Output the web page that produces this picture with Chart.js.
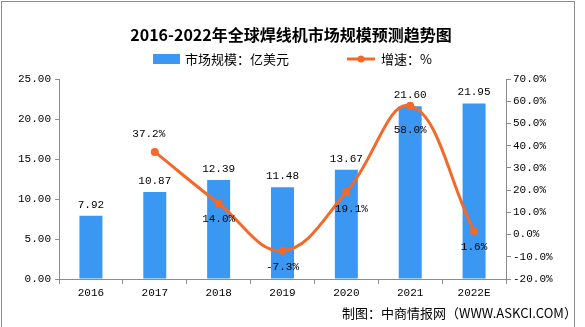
<!DOCTYPE html>
<html>
<head>
<meta charset="utf-8">
<script src="https://cdn.jsdelivr.net/npm/chart.js@4"></script>
<style>
  html, body { margin: 0; padding: 0; background: #fff; }
  #wrap { position: relative; width: 585px; height: 327px; }
  #frame { position: absolute; left: 1px; top: 1px; width: 574px; height: 330px; border: 1px solid #8c8c8c; box-sizing: border-box; pointer-events: none; }
</style>
</head>
<body>
<div id="wrap">
  <canvas id="c" width="585" height="327"></canvas>
  <div id="frame"></div>
</div>
<script>
// ── Data ──
const years = ['2016', '2017', '2018', '2019', '2020', '2021', '2022E'];
const marketSize = [7.92, 10.87, 12.39, 11.48, 13.67, 21.60, 21.95];   // 亿美元
const growthRate = [null, 37.2, 14.0, -7.3, 19.1, 58.0, 1.6];          // %

const BLUE = '#3a97f2';
const ORANGE = '#f2692a';
const monoFont = { family: '"Liberation Mono", "DejaVu Sans Mono", monospace', size: 11 };
const cjk = '"Noto Sans CJK SC", "Noto Sans", sans-serif';

// label nudges for the growth line, so labels don't sit on the curve
function growthLabelOffset(i) {
    if (i === 1) return [-6, -18];   // 2017: above the point
    if (i === 4) return [5, 17];     // 2020: below, a bit right
    if (i === 5) return [0, 24];     // 2021: under the peak
    return [0, 16];
}

// ── Title, legend, footer and value labels ──
const decor = {
    id: 'decor',
    afterDatasetsDraw(chart) {
        const ctx = chart.ctx;
        ctx.save();
        ctx.fillStyle = '#000';
        ctx.font = '11px ' + monoFont.family;
        ctx.textAlign = 'center';
        ctx.textBaseline = 'middle';

        // bar values above each bar (dataset 0)
        chart.getDatasetMeta(0).data.forEach((bar, i) => {
            ctx.fillText(marketSize[i].toFixed(2), bar.x, bar.y - 11);
        });
        // growth values (dataset 1)
        chart.getDatasetMeta(1).data.forEach((pt, i) => {
            if (growthRate[i] === null) return;
            const [dx, dy] = growthLabelOffset(i);
            ctx.fillText(growthRate[i].toFixed(1) + '%', pt.x + dx, pt.y + dy);
        });
        ctx.restore();
    },
    afterDraw(chart) {
        const ctx = chart.ctx;
        ctx.save();
        ctx.fillStyle = '#000';
        ctx.textBaseline = 'middle';

        ctx.font = 'bold 16px ' + cjk;
        ctx.textAlign = 'center';
        ctx.fillText('2016-2022年全球焊线机市场规模预测趋势图', 291, 35);

        // legend
        ctx.textAlign = 'left';
        ctx.font = '13px ' + cjk;
        ctx.fillStyle = BLUE;
        ctx.fillRect(153, 54, 27, 10);
        ctx.fillStyle = '#000';
        ctx.fillText('市场规模：亿美元', 185, 59);

        ctx.strokeStyle = ORANGE;
        ctx.lineWidth = 3;
        ctx.beginPath();
        ctx.moveTo(347, 59);
        ctx.lineTo(375, 59);
        ctx.stroke();
        ctx.fillStyle = ORANGE;
        ctx.beginPath();
        ctx.arc(361, 59, 3.5, 0, Math.PI * 2);
        ctx.fill();
        ctx.fillStyle = '#000';
        ctx.fillText('增速：%', 381, 59);

        // source
        ctx.font = '13px ' + cjk;
        ctx.fillText('制图：中商情报网（WWW.ASKCI.COM）', 342, 313);
        ctx.restore();
    }
};

new Chart(document.getElementById('c'), {
    data: {
        labels: years,
        datasets: [
            {
                type: 'bar',
                data: marketSize,
                yAxisID: 'y',
                backgroundColor: BLUE,
                barPercentage: 0.36,
                categoryPercentage: 1,
                order: 1
            },
            {
                type: 'line',
                data: growthRate,
                yAxisID: 'y1',
                borderColor: ORANGE,
                backgroundColor: ORANGE,
                borderWidth: 3,
                pointRadius: 4,
                pointBackgroundColor: ORANGE,
                pointBorderWidth: 0,
                tension: 0.4,
                order: 0   // drawn on top of the bars
            }
        ]
    },
    options: {
        responsive: false,
        animation: false,
        layout: { padding: { top: 79, left: 0, right: 0, bottom: 0 } },
        plugins: { legend: { display: false }, tooltip: { enabled: false } },
        scales: {
            x: {
                grid: { display: true, drawOnChartArea: false, offset: true, tickLength: 5, color: '#8c8c8c' },
                border: { color: '#8c8c8c' },
                ticks: { color: '#000', font: monoFont, padding: 2, maxRotation: 0 },
                afterFit: s => { s.height = 48; }
            },
            y: {
                position: 'left',
                min: 0, max: 25,
                grid: { display: true, drawOnChartArea: false, tickLength: 4, color: '#8c8c8c' },
                border: { color: '#8c8c8c' },
                ticks: { stepSize: 5, color: '#000', font: monoFont, padding: 4, callback: v => v.toFixed(2) },
                afterFit: s => { s.width = 59; }
            },
            y1: {
                position: 'right',
                min: -20, max: 70,
                grid: { display: true, drawOnChartArea: false, tickLength: 5, color: '#8c8c8c' },
                border: { color: '#8c8c8c' },
                ticks: { stepSize: 10, color: '#000', font: monoFont, padding: 2, callback: v => v.toFixed(1) + '%' },
                afterFit: s => { s.width = 79; }
            }
        }
    },
    plugins: [decor]
});
</script>
</body>
</html>
